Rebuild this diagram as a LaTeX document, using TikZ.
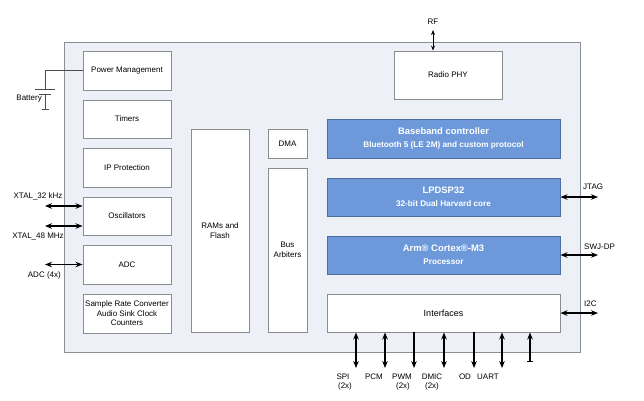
\documentclass[tikz,border=0pt]{standalone}
\usepackage{fontspec}
\setmainfont{Liberation Sans}
\usetikzlibrary{arrows.meta}
\definecolor{outerfill}{HTML}{EDF1F7}
\definecolor{outerdraw}{HTML}{8A8F96}
\definecolor{boxdraw}{HTML}{8C8C8C}
\definecolor{bluefill}{HTML}{6D99DB}
\definecolor{bluedraw}{HTML}{4D6E9E}
\tikzset{
  wbox/.style={draw=boxdraw, line width=0.9pt, fill=white, inner sep=1pt, align=center, font=\fontsize{8}{9.5}\selectfont},
  bbox/.style={draw=bluedraw, line width=0.9pt, fill=bluefill, text=white, align=center, inner sep=1pt},
  sig/.style={line width=1.3pt, {Stealth[length=7pt,width=5.5pt]}-{Stealth[length=7pt,width=5.5pt]}},
  sigdown/.style={line width=1.3pt, -{Stealth[length=7pt,width=5.5pt]}},
  lbl/.style={font=\fontsize{8}{9}\selectfont, inner sep=0pt},
  thin/.style={draw=black!70, line width=0.7pt}
}
\begin{document}
\begin{tikzpicture}[x=1pt,y=-1pt]
\useasboundingbox (0,0) rectangle (644,400);
% outer chip
\node[draw=outerdraw, line width=0.9pt, fill=outerfill, minimum width=516pt, minimum height=310pt, inner sep=0pt] (chip) at (322,197) {};
% left column
\node[wbox, minimum width=88pt, minimum height=39pt] (pm) at (127,70.5) {Power Management};
\node[wbox, minimum width=88pt, minimum height=38pt] (tim) at (127,119) {Timers};
\node[wbox, minimum width=88pt, minimum height=39pt] (ip) at (127,167.5) {IP Protection};
\node[wbox, minimum width=88pt, minimum height=38pt] (osc) at (127,216) {Oscillators};
\node[wbox, minimum width=88pt, minimum height=39pt] (adc) at (127,264.5) {ADC};
\node[wbox, minimum width=88pt, minimum height=39pt] (src) at (127,313.5) {Sample Rate Converter\\Audio Sink Clock\\Counters};
% memory and bus
\node[wbox, minimum width=58pt, minimum height=203pt] (ram) at (220,230.5) {RAMs and\\Flash};
\node[wbox, minimum width=39pt, minimum height=29pt] (dma) at (287.5,143.5) {DMA};
\node[wbox, minimum width=39pt, minimum height=164pt] (bus) at (287.5,250) {Bus\\Arbiters};
% radio
\node[wbox, minimum width=108pt, minimum height=48pt] (phy) at (448,75) {Radio PHY};
% blue cores
\node[bbox, minimum width=233pt, minimum height=39pt] (bb) at (443.5,138.5) {{\fontsize{9.4}{11}\selectfont\bfseries Baseband controller}\\[1pt]{\fontsize{8.2}{9}\selectfont\bfseries Bluetooth 5 (LE 2M) and custom protocol}};
\node[bbox, minimum width=233pt, minimum height=38pt] (dsp) at (443.5,197) {{\fontsize{9.4}{11}\selectfont\bfseries LPDSP32}\\[1pt]{\fontsize{8.2}{9}\selectfont\bfseries 32-bit Dual Harvard core}};
\node[bbox, minimum width=233pt, minimum height=38pt] (arm) at (443.5,255) {{\fontsize{9.4}{11}\selectfont\bfseries Arm® Cortex®-M3}\\[1pt]{\fontsize{8.2}{9}\selectfont\bfseries Processor}};
\node[wbox, minimum width=233pt, minimum height=38pt, font=\fontsize{9}{11}\selectfont] (intf) at (443.5,313) {Interfaces};
% RF
\coordinate (rfend) at (433,30);
\node[lbl] (rf) at (433,22) {RF};
\draw[line width=1pt, {Stealth[length=5pt,width=4pt]}-{Stealth[length=5pt,width=4pt]}] (rfend) -- (rfend |- phy.north);
% right signals
\coordinate (jtagend) at (598,197);
\coordinate (swjend) at (598,255);
\coordinate (i2cend) at (598,313);
\draw[sig] (dsp.east) -- (jtagend);
\draw[sig] (arm.east) -- (swjend);
\draw[sig] (intf.east) -- (i2cend);
\node[lbl, anchor=west] (jtag) at (583,187) {JTAG};
\node[lbl, anchor=west] (swj) at (584,247) {SWJ-DP};
\node[lbl, anchor=west] (i2c) at (584,304) {I2C};
% left signals
\coordinate (x32) at (45,206);
\coordinate (x48) at (45,226);
\coordinate (adcend) at (45,264.5);
\draw[sig] (x32) -- (x32 -| osc.west);
\draw[sig] (x48) -- (x48 -| osc.west);
\draw[sig] (adcend) -- (adc.west);
\node[lbl] (x32l) at (38,196) {XTAL\_32 kHz};
\node[lbl] (x48l) at (38,236) {XTAL\_48 MHz};
\node[lbl, anchor=east] (adcl) at (61,275) {ADC (4x)};
% battery
\coordinate (bt1) at (45,70.5);
\coordinate (bt2) at (45,89.3);
\coordinate (bt3) at (45,94);
\coordinate (bt4) at (45,109);
\draw[thin] (pm.west) -- (bt1) -- (bt2);
\draw[thin] (35,89.3) -- (55,89.3);
\draw[thin] (39,94) -- (51,94);
\draw[thin] (bt3) -- (bt4);
\draw[thin] (42,109) -- (49,109);
\node[lbl, anchor=east] (batt) at (42,99) {Battery};
% bottom signals
\foreach \n/\x in {spi/356, pcm/385, dmic/444, uart/502}{
  \coordinate (\n end) at (\x,368);
  \draw[sig] (intf.south -| \n end) -- (\n end);
}
\foreach \n/\x in {pwm/414, od/474}{
  \coordinate (\n end) at (\x,368);
  \draw[sigdown] (intf.south -| \n end) -- (\n end);
}
\coordinate (lastend) at (530,362);
\draw[line width=1.3pt, {Bar[width=6pt]}-{Stealth[length=7pt,width=5.5pt]}] (lastend) -- (intf.south -| lastend);
\node[lbl] (spil) at (343,377) {SPI};
\node[lbl] (spil2) at (345,386.5) {(2x)};
\node[lbl] (pcml) at (374,377) {PCM};
\node[lbl] (pwml) at (402,377) {PWM};
\node[lbl] (pwml2) at (403,386.5) {(2x)};
\node[lbl] (dmicl) at (432,377) {DMIC};
\node[lbl] (dmicl2) at (432,386.5) {(2x)};
\node[lbl] (odl) at (465,377) {OD};
\node[lbl] (uartl) at (488,377) {UART};
\end{tikzpicture}
\end{document}
